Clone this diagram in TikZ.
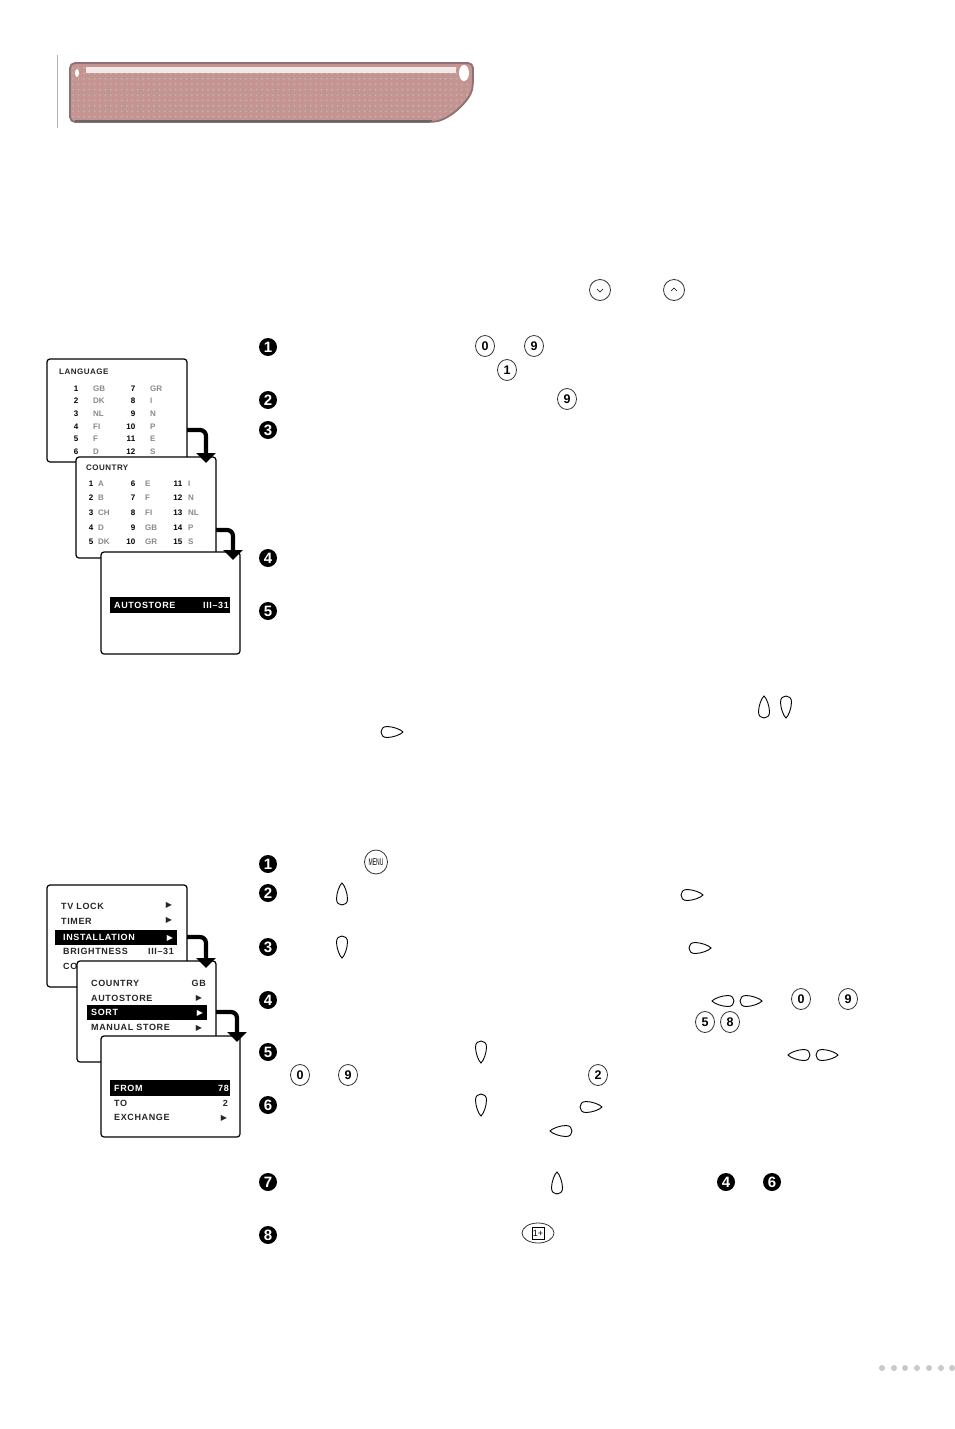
\documentclass[tikz,border=0pt]{standalone}
\usepackage{fontspec}
\setmainfont{Liberation Sans}
\newfontfamily\symbfont{DejaVu Sans}
\usetikzlibrary{matrix,arrows.meta,shapes.geometric}
\definecolor{bannerpink}{HTML}{C69393}
\definecolor{bannerdot}{HTML}{B8B89C}
\definecolor{bannerrim}{HTML}{8E7174}
\definecolor{pagedot}{HTML}{C9C9C9}
\definecolor{codegray}{HTML}{8A8A8A}
\newcommand{\menuarrow}{{\symbfont\fontsize{8}{8}\selectfont ▶}}
\tikzset{
  screen/.style={draw=black, fill=white, line width=1.2pt, rounded corners=3pt, anchor=north west, inner sep=0pt, outer sep=0pt},
  menutext/.style={font=\bfseries\fontsize{9}{9}\selectfont\addfontfeatures{LetterSpace=7}, text=black!85, anchor=west, inner sep=0pt},
  menubar/.style={fill=black, anchor=north west, inner sep=0pt, outer sep=0pt},
  barkey/.style={menutext, text=white},
  flowarrow/.style={line width=4.2pt, rounded corners=6pt, -{Triangle[width=19pt,length=10pt]}},
  stepdot/.style={circle, fill=black, text=white, inner sep=0pt, minimum size=18pt, font=\bfseries\fontsize{15}{15}\selectfont},
  keycap/.style={ellipse, draw=black!80, fill=white, line width=.8pt, inner sep=0pt, minimum width=19pt, minimum height=21pt, font=\bfseries\fontsize{12.5}{12.5}\selectfont},
  pics/drop/.style={code={
    \draw[black, fill=white, line width=.9pt] (0,-11) .. controls (2.5,-9) and (5.5,-1) .. (5.5,5) .. controls (5.5,9) and (3,11) .. (0,11) .. controls (-3,11) and (-5.5,9) .. (-5.5,5) .. controls (-5.5,-1) and (-2.5,-9) .. (0,-11) -- cycle;
  }},
  tabmatrix/.style={matrix of nodes, anchor=north west, inner sep=0pt, row sep=6.6pt, column sep=0pt,
    nodes={font=\bfseries\fontsize{8}{8}\selectfont, inner sep=0pt, text height=6pt, text depth=0pt, align=right}},
}

\begin{document}
\begin{tikzpicture}[x=1pt, y=-1pt]
  \useasboundingbox (0,0) rectangle (954,1429);
  \fill[white] (0,0) rectangle (954,1429);

  % banner
  \draw[black!30, line width=.8pt] (57,55) -- (57,128);
  \begin{scope}
    \clip[rounded corners=5pt] (70,63) -- (473,63) -- (473,85) .. controls (470,100) and (450,120) .. (430,122) -- (70,122) -- cycle;
    \fill[bannerpink] (70,63) rectangle (473,122);
    \foreach \col in {0,...,75}
      \foreach \row in {0,...,10}
        \fill[bannerdot] (73+\col*5.4,68+\row*5.4) circle (1.1);
    \fill[bannerpink!20!white] (86,67) rectangle (456,73);
    \fill[white] (464,73) ellipse (5 and 8);
    \fill[white] (77,73) ellipse (2 and 4);
  \end{scope}
  \draw[bannerrim, line width=1.8pt, rounded corners=5pt] (70,63) -- (473,63) -- (473,85) .. controls (470,100) and (450,120) .. (430,122) -- (70,122) -- cycle;
  \draw[black!60, line width=2pt] (75,121) -- (432,121);

  % first group of screens
  \node[screen, minimum width=140pt, minimum height=103pt] (langscreen) at (47,359) {};
  \node[menutext, font=\bfseries\fontsize{8}{8}\selectfont\addfontfeatures{LetterSpace=6}] (langtitle) at (59,372) {LANGUAGE};
  \matrix (langtab) [tabmatrix, column 1/.style={nodes={text width=12pt}}, column 3/.style={nodes={text width=12pt}},
      column 2/.style={nodes={text width=30pt, align=left, text=codegray}}, column 4/.style={nodes={text width=20pt, align=left, text=codegray}}] at (66,385)
  {
    1 &[15pt] GB & 7 &[15pt] GR \\
    2 & DK & 8 & I \\
    3 & NL & 9 & N \\
    4 & FI & 10 & P \\
    5 & F & 11 & E \\
    6 & D & 12 & S \\
  };

  \node[screen, minimum width=140pt, minimum height=101pt] (countryscreen) at (76,457) {};
  \draw[flowarrow] ([yshift=-71pt]langscreen.north east) -| ([xshift=-10pt,yshift=-6pt]countryscreen.north east);
  \node[menutext, font=\bfseries\fontsize{8}{8}\selectfont\addfontfeatures{LetterSpace=6}] (countrytitle) at (86,468) {COUNTRY};
  \matrix (countrytab) [tabmatrix, column 1/.style={nodes={text width=8pt}}, column 3/.style={nodes={text width=12pt}}, column 5/.style={nodes={text width=12pt}},
      column 2/.style={nodes={text width=25pt, align=left, text=codegray}}, column 4/.style={nodes={text width=25pt, align=left, text=codegray}}, column 6/.style={nodes={text width=18pt, align=left, text=codegray}}, row sep=8.6pt] at (85,480)
  {
    1 &[5pt] A & 6 &[10pt] E & 11 &[6pt] I \\
    2 & B & 7 & F & 12 & N \\
    3 & CH & 8 & FI & 13 & NL \\
    4 & D & 9 & GB & 14 & P \\
    5 & DK & 10 & GR & 15 & S \\
  };

  \node[screen, minimum width=139pt, minimum height=102pt] (autoscreen) at (101,552) {};
  \draw[flowarrow] ([yshift=-73pt]countryscreen.north east) -| ([xshift=-7pt,yshift=-8pt]autoscreen.north east);
  \node[menubar, minimum width=120pt, minimum height=16pt] (autobar) at (110,597) {};
  \node[barkey] (autolabel) at (114,605) {AUTOSTORE};
  \node[barkey, anchor=east] (autovalue) at (229,605) {III--31};

  % second group of screens
  \node[screen, minimum width=140pt, minimum height=102pt] (menuscreen) at (47,885) {};
  \node[menutext] (tvlock) at (61,906) {TV LOCK};
  \node[menutext] (timer) at (61,921) {TIMER};
  \node[menubar, minimum width=122pt, minimum height=15pt] (installbar) at (55,930) {};
  \node[barkey] (install) at (63,937) {INSTALLATION};
  \node[menutext] (bright) at (63,951) {BRIGHTNESS};
  \node[menutext, anchor=east] (brightvalue) at (174,951) {III--31};
  \node[menutext] (colour) at (63,966) {COLOUR};
  \node[menutext, anchor=center] (tvlockmark) at (169,905) {\menuarrow};
  \node[menutext, anchor=center] (timermark) at (169,920) {\menuarrow};
  \node[barkey, anchor=center] (installmark) at (170,938) {\menuarrow};

  \node[screen, minimum width=139pt, minimum height=101pt] (installscreen) at (77,961) {};
  \draw[flowarrow] ([yshift=-52pt]menuscreen.north east) -| ([xshift=-10pt,yshift=-7pt]installscreen.north east);
  \node[menutext] (country) at (91,983) {COUNTRY};
  \node[menutext, anchor=east] (countryvalue) at (206,983) {GB};
  \node[menutext] (autostore) at (91,998) {AUTOSTORE};
  \node[menubar, minimum width=120pt, minimum height=15pt] (sortbar) at (87,1005) {};
  \node[barkey] (sort) at (91,1012.5) {SORT};
  \node[menutext] (manual) at (91,1027) {MANUAL STORE};
  \node[menutext, anchor=center] (automark) at (199,998) {\menuarrow};
  \node[barkey, anchor=center] (sortmark) at (200,1013) {\menuarrow};
  \node[menutext, anchor=center] (manualmark) at (199,1028) {\menuarrow};

  \node[screen, minimum width=139pt, minimum height=101pt] (sortscreen) at (101,1036) {};
  \draw[flowarrow] ([yshift=-51pt]installscreen.north east) -| ([xshift=-3pt,yshift=-6pt]sortscreen.north east);
  \node[menubar, minimum width=120pt, minimum height=16pt] (frombar) at (110,1080) {};
  \node[barkey] (from) at (114,1088) {FROM};
  \node[barkey, anchor=east] (fromvalue) at (229,1088) {78};
  \node[menutext] (to) at (114,1103) {TO};
  \node[menutext, anchor=east] (tovalue) at (228,1103) {2};
  \node[menutext] (exchange) at (114,1117) {EXCHANGE};
  \node[menutext, anchor=center] (exchangemark) at (224,1118) {\menuarrow};

  % step numbers
  \foreach \name/\xpos/\ypos/\digit in {topa/268/347/1, topb/268/400/2, topc/268/430/3, topd/268/558/4, tope/268/611/5,
      lowa/268/864/1, lowb/268/893/2, lowc/268/947/3, lowd/268/1000/4, lowe/268/1052/5, lowf/268/1105/6, lowg/268/1182/7, lowh/268/1235/8,
      backd/726/1182/4, backf/772/1182/6}
    \node[stepdot] (\name) at (\xpos,\ypos) {\digit};

  % number keys
  \foreach \name/\xpos/\ypos/\digit in {keya/485/346/0, keyb/534/346/9, keyc/507/370/1, keyd/567/399/9,
      keye/801/999/0, keyf/848/999/9, keyg/705/1022/5, keyh/730/1022/8, keyi/300/1075/0, keyj/348/1075/9, keyk/598/1075/2}
    \node[keycap] (\name) at (\xpos,\ypos) {\digit};

  \node[keycap, minimum width=21pt] (downkey) at (600,290) {};
  \node[keycap, minimum width=21pt] (upkey) at (674,290) {};
  \draw[line width=.6pt] ([shift={(-3pt,1pt)}]downkey.center) -- ([shift={(0pt,-2pt)}]downkey.center) -- ([shift={(3pt,1pt)}]downkey.center);
  \draw[line width=.6pt] ([shift={(-3pt,-1pt)}]upkey.center) -- ([shift={(0pt,2pt)}]upkey.center) -- ([shift={(3pt,-1pt)}]upkey.center);
  \node[keycap, minimum width=23pt, minimum height=24pt, font=\fontsize{7}{7}\selectfont] (menukey) at (376,862) {\scalebox{.72}[1.4]{MENU}};
  \node[keycap, minimum width=32pt, minimum height=20pt] (teletextkey) at (538,1233) {};
  \node[draw=black, line width=.7pt, inner sep=0pt, minimum size=12pt, font=\fontsize{9}{9}\selectfont] (teletextbox) at (teletextkey.center) {1+};

  % cursor keys
  \foreach \xpos/\ypos in {764/707, 342/894, 557/1183}
    \pic at (\xpos,\ypos) {drop};
  \foreach \xpos/\ypos in {786/707, 342/947, 481/1052, 481/1105}
    \pic[rotate=180] at (\xpos,\ypos) {drop};
  \foreach \xpos/\ypos in {392/732, 692/895, 700/948, 751/1001, 827/1055, 591/1107}
    \pic[rotate=-90] at (\xpos,\ypos) {drop};
  \foreach \xpos/\ypos in {723/1001, 799/1055, 561/1131}
    \pic[rotate=90] at (\xpos,\ypos) {drop};

  % page marker
  \foreach \xpos in {882,894,905,917,929,941,952}
    \fill[pagedot] (\xpos,1368) circle (3);
\end{tikzpicture}
\end{document}
